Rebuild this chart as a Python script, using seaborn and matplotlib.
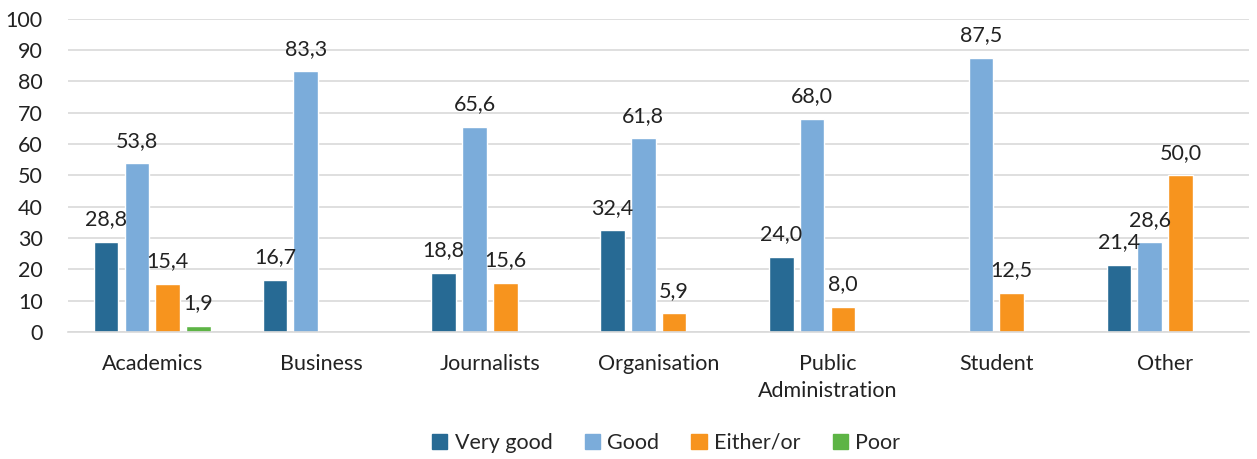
import matplotlib
matplotlib.use("Agg")
import matplotlib.pyplot as plt
import numpy as np
import pandas as pd
import seaborn as sns

# Data (percent)
categories = ["Academics", "Business", "Journalists", "Organisation",
              "Public\nAdministration", "Student", "Other"]
ratings = ["Very good", "Good", "Either/or", "Poor"]
very_good = [28.8, 16.7, 18.8, 32.4, 24.0, np.nan, 21.4]
good = [53.8, 83.3, 65.6, 61.8, 68.0, 87.5, 28.6]
either_or = [15.4, np.nan, 15.6, 5.9, 8.0, 12.5, 50.0]
poor = [1.9, np.nan, np.nan, np.nan, np.nan, np.nan, np.nan]
colors = ["#276A94", "#7BACDA", "#F7941E", "#5DB445"]

rows = []
for name, series in zip(ratings, [very_good, good, either_or, poor]):
    for cat, val in zip(categories, series):
        rows.append({"category": cat, "rating": name, "value": val})
df = pd.DataFrame(rows)

sns.set_style("white")
plt.rcParams["font.family"] = ["Lato", "DejaVu Sans"]
FS = 15.5

fig = plt.figure(figsize=(12.57, 4.59), dpi=100)
ax = fig.add_axes([0.054, 0.277, 0.940, 0.682])

sns.barplot(data=df, x="category", y="value", hue="rating",
            order=categories, hue_order=ratings, palette=colors,
            width=0.73, gap=0.2, saturation=1, errorbar=None, ax=ax)

for cont in ax.containers:
    labels = ["" if np.isnan(v) else f"{v:.1f}".replace(".", ",")
              for v in cont.datavalues]
    ax.bar_label(cont, labels=labels, padding=9, fontsize=FS, color="#222222")

ax.set_ylim(0, 100)
ax.set_xlim(-0.5, 6.5)
ax.set_yticks(range(0, 101, 10))
ax.yaxis.grid(True, color="#D9D9D9", linewidth=1.2)
ax.set_axisbelow(True)
for side in ["top", "right", "left"]:
    ax.spines[side].set_visible(False)
ax.spines["bottom"].set_color("#D9D9D9")
ax.spines["bottom"].set_linewidth(1.2)
ax.tick_params(axis="both", length=0, labelsize=FS, colors="#222222")
ax.tick_params(axis="x", pad=16)
ax.tick_params(axis="y", pad=18)
for lbl in ax.get_xticklabels():
    lbl.set_linespacing(1.45)
ax.set_xlabel("")
ax.set_ylabel("")

ax.legend_.remove()
handles = [plt.Rectangle((0, 0), 1, 1, color=c) for c in colors]
fig.legend(handles, ratings, loc="center", bbox_to_anchor=(0.53, 0.035),
           ncol=4, frameon=False, fontsize=FS, handlelength=0.7,
           handleheight=0.7, handletextpad=0.35, columnspacing=1.5)

fig.savefig("out.png", dpi=100)
